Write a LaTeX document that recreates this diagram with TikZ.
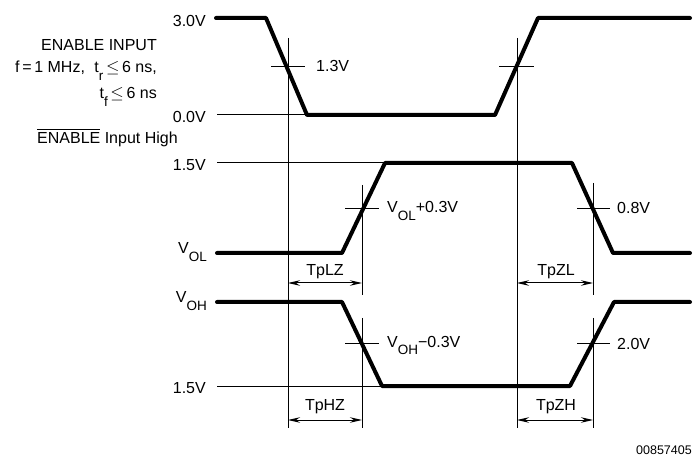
\documentclass[tikz,border=0pt]{standalone}
\usepackage{fontspec}
\setmainfont{Liberation Sans}
\usetikzlibrary{arrows.meta}
\newcommand{\mysub}[1]{\raisebox{-7.5pt}{\fontsize{13.5}{13.5}\selectfont #1}}
\newcommand{\myovl}[1]{\leavevmode\vbox{\hrule height 0.9pt\kern3pt\hbox{#1}}}
\newcommand{\myleq}{{\fontsize{18}{18}\selectfont$\leq$}}
\begin{document}
\begin{tikzpicture}[x=1pt,y=-1pt,
  wave/.style={line width=4pt, line join=round, line cap=round},
  thinline/.style={line width=1pt},
  lbl/.style={font=\fontsize{16}{18}\selectfont, inner sep=0pt},
  dimarrow/.style={line width=1pt, {Stealth[length=12pt,width=5.5pt]}-{Stealth[length=12pt,width=5.5pt]}}]
\useasboundingbox (0,0) rectangle (694,457);

% ---------- key coordinates ----------
\coordinate (vA1) at (288,38);  \coordinate (vA2) at (288,428);
\coordinate (vB1) at (517,38);  \coordinate (vB2) at (517,428);
\coordinate (vC1) at (362,185); \coordinate (vC2) at (362,295);
\coordinate (vD1) at (593,183); \coordinate (vD2) at (593,295);
\coordinate (vE1) at (362,318); \coordinate (vE2) at (362,428);
\coordinate (vF1) at (593,318); \coordinate (vF2) at (593,428);

% ---------- reference lines ----------
\draw[thinline] (vA1) -- (vA2);
\draw[thinline] (vB1) -- (vB2);
\draw[thinline] (vC1) -- (vC2);
\draw[thinline] (vD1) -- (vD2);
\draw[thinline] (vE1) -- (vE2);
\draw[thinline] (vF1) -- (vF2);

\draw[thinline] (217,115) -- (307,115);
\draw[thinline] (217,163) -- (385,163);
\draw[thinline] (217,386) -- (382,386);

% crosshair ticks
\draw[thinline] (271,67) -- (305,67);
\draw[thinline] (499,67) -- (534,67);
\draw[thinline] (345,209) -- (379,209);
\draw[thinline] (577,209) -- (610,209);
\draw[thinline] (345,343) -- (379,343);
\draw[thinline] (577,343) -- (610,343);

% ---------- waveforms ----------
\draw[wave] (216,18) -- (266,18) -- (307,115) -- (495,115) -- (538,18) -- (690,18);
\draw[wave] (217,253) -- (342,253) -- (385,163) -- (572,163) -- (613,253) -- (690,253);
\draw[wave] (217,302) -- (342,302) -- (382,386) -- (570,386) -- (614,302) -- (690,302);

% ---------- dimension arrows ----------
\coordinate (aLZ1) at (288,283); \coordinate (aLZ2) at (362,283);
\coordinate (aZL1) at (517,283); \coordinate (aZL2) at (593,283);
\coordinate (aHZ1) at (288,420); \coordinate (aHZ2) at (362,420);
\coordinate (aZH1) at (517,420); \coordinate (aZH2) at (593,420);
\draw[dimarrow] (aLZ1) -- (aLZ2);
\draw[dimarrow] (aZL1) -- (aZL2);
\draw[dimarrow] (aHZ1) -- (aHZ2);
\draw[dimarrow] (aZH1) -- (aZH2);

% ---------- labels ----------
\node[lbl, anchor=base east] (l30) at (206,27) {3.0V};
\node[lbl, anchor=base east] (l00) at (206,123) {0.0V};
\node[lbl, anchor=base east] (l15a) at (206,171) {1.5V};
\node[lbl, anchor=base east] (lvol) at (207,254) {V\mysub{OL}};
\node[lbl, anchor=base east] (lvoh) at (207,303) {V\mysub{OH}};
\node[lbl, anchor=base east] (l15b) at (206,393) {1.5V};

\node[lbl, anchor=base east] (en1) at (157,51) {ENABLE INPUT};
\node[lbl, anchor=base east] (en2) at (157,73) {f\,=\,1 MHz,\hspace{5pt} t\mysub{r}\,\myleq\,6 ns,};
\node[lbl, anchor=base east] (en3) at (157,99) {t\mysub{f}\,\myleq\,6 ns};
\node[lbl, anchor=base west] (en4) at (37,144) {\myovl{ENABLE} Input High};

\node[lbl, anchor=base west] (l13) at (316,72) {1.3V};
\node[lbl, anchor=base west] (lvolp) at (387,213) {V\mysub{OL}+0.3V};
\node[lbl, anchor=base west] (l08) at (617,214) {0.8V};
\node[lbl, anchor=base west] (lvohm) at (387,347) {V\mysub{OH}−0.3V};
\node[lbl, anchor=base west] (l20) at (617,349) {2.0V};

\node[lbl, anchor=base] (tplz) at (325,276) {TpLZ};
\node[lbl, anchor=base] (tpzl) at (556,276) {TpZL};
\node[lbl, anchor=base] (tphz) at (325,410) {TpHZ};
\node[lbl, anchor=base] (tpzh) at (556,410) {TpZH};

\node[font=\fontsize{12.5}{14}\selectfont, inner sep=0pt, anchor=base east] (code) at (692,454) {00857405};
\end{tikzpicture}
\end{document}
